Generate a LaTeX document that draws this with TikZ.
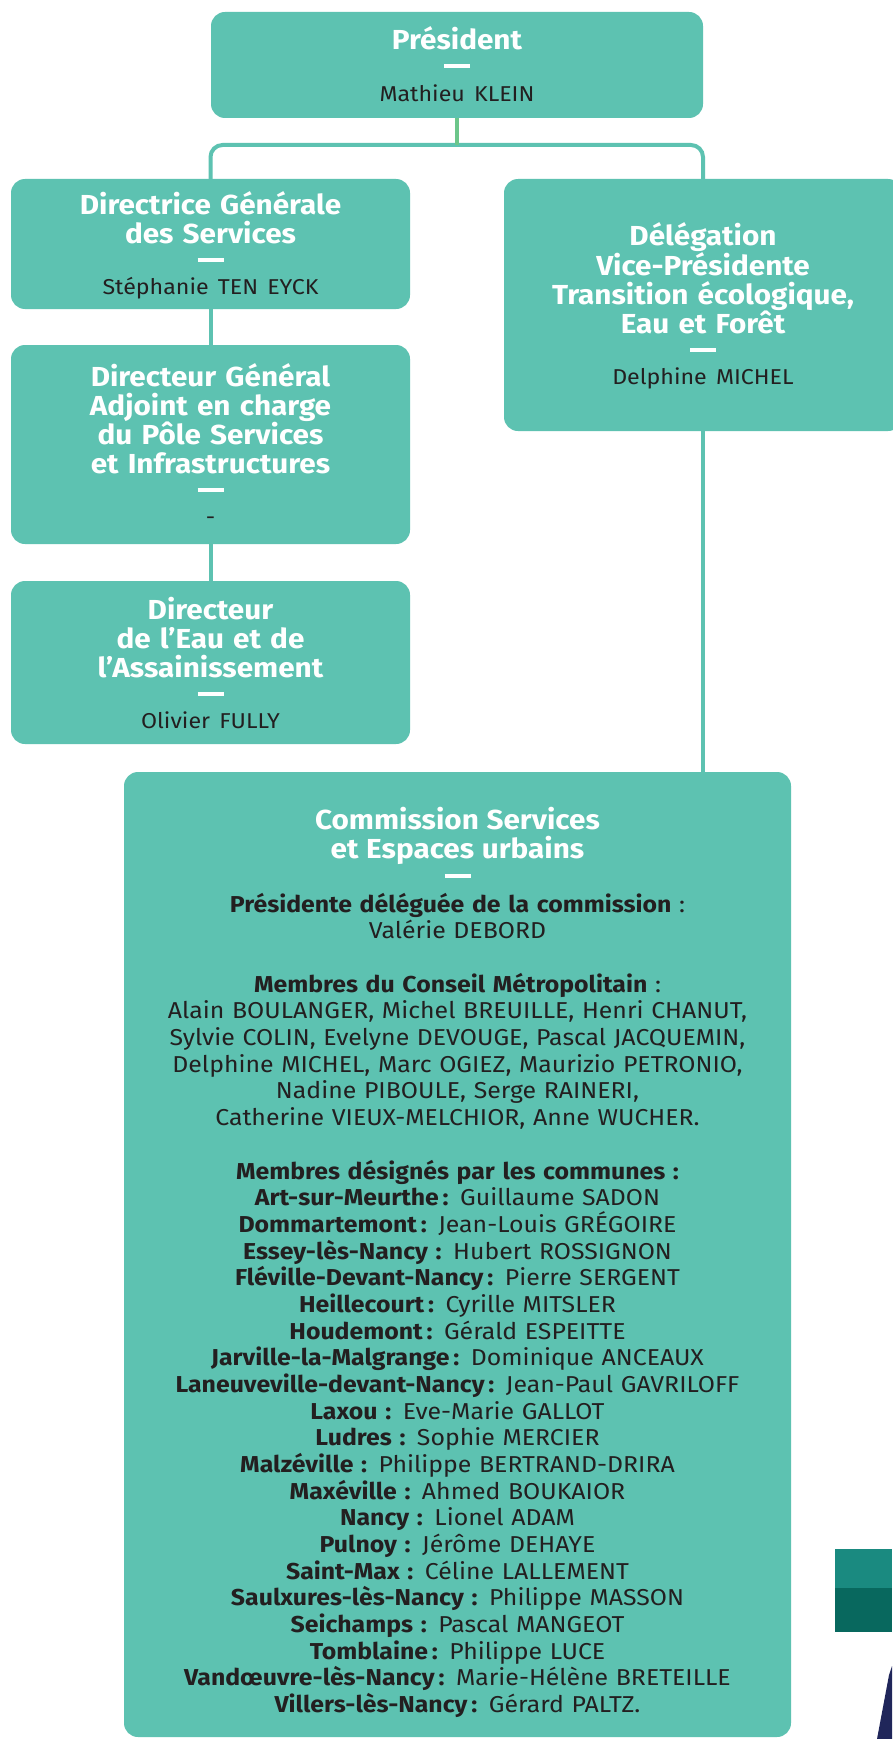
\documentclass[tikz,border=0pt]{standalone}
\usepackage{fontspec}
\setmainfont[FakeStretch=1.08]{Fira Sans}
\AtBeginDocument{\lineskiplimit=-100pt\relax}
\definecolor{boxc}{HTML}{5DC2B1}
\definecolor{linkg}{HTML}{6CC68A}
\definecolor{ink}{HTML}{231F20}
\definecolor{tealA}{HTML}{1A8A80}
\definecolor{tealB}{HTML}{08685E}
\definecolor{navy}{HTML}{20265A}
\newcommand\sepbar{\rule[10.5pt]{26pt}{4pt}}
\newcommand\nm[1]{{\color{ink}\mdseries\fontsize{21.5}{29}\selectfont #1}}
\begin{document}
\begin{tikzpicture}[x=1pt,y=-1pt,
  box/.style={fill=boxc, rounded corners=14pt, inner sep=0pt},
  ttl/.style={text=white, inner sep=0pt, align=center, text width=380pt, anchor=base,
    font=\bfseries\fontsize{27.5}{29}\selectfont},
  conn/.style={draw=boxc, line width=4pt},
  conng/.style={draw=linkg, line width=3.5pt}]
\useasboundingbox (0,0) rectangle (892,1739);
\fill[white] (0,0) rectangle (892,1739);

% decorations bottom right
\fill[tealA] (835,1549) rectangle (892,1588);
\fill[tealB] (835,1588) rectangle (892,1632);
\fill[navy] (877,1739) -- (889,1675) -- (892,1666) -- (892,1739) -- cycle;

% boxes
\node[box, minimum width=492pt, minimum height=106pt] (pres) at (457,65) {};
\node[box, minimum width=399pt, minimum height=130pt] (dgs) at (210.5,244) {};
\node[box, minimum width=398pt, minimum height=252pt] (deleg) at (703,305) {};
\node[box, minimum width=399pt, minimum height=199pt] (dga) at (210.5,444.5) {};
\node[box, minimum width=399pt, minimum height=163pt] (dir) at (210.5,662.5) {};
\node[box, minimum width=667pt, minimum height=965pt] (comm) at (457.5,1254.5) {};

% texts
\node[ttl] (presT) at (457,50)
  {Président\\\sepbar\\[-6.5pt]\nm{Mathieu KLEIN}};
\node[ttl] (dgsT) at (210.5,214.3)
  {Directrice Générale\\des Services\\\sepbar\\[-6.5pt]\nm{Stéphanie TEN EYCK}};
\node[ttl] (delegT) at (703,245.3)
  {Délégation\\Vice-Présidente\\Transition écologique,\\Eau et Forêt\\\sepbar\\[-6.5pt]\nm{Delphine MICHEL}};
\node[ttl] (dgaT) at (210.5,386.3)
  {Directeur Général\\Adjoint en charge\\du Pôle Services\\et Infrastructures\\\sepbar\\[-6.5pt]\nm{-}};
\node[ttl] (dirT) at (210.5,619.3)
  {Directeur\\de l’Eau et de\\l’Assainissement\\\sepbar\\[-6.5pt]\nm{Olivier FULLY}};

\node[text=ink, align=center, inner sep=0pt, text width=660pt, anchor=base,
  font=\fontsize{23}{26.67}\selectfont] (commT) at (457.5,829.3)
  {{\color{white}\bfseries\fontsize{27.5}{26.67}\selectfont Commission Services\\[2.33pt]et Espaces urbains\\[2.33pt]\rule[9pt]{26pt}{4pt}}\\[-1.67pt]
  \textbf{Présidente déléguée de la commission} :\\
  Valérie DEBORD\\[26.67pt]
  \textbf{Membres du Conseil Métropolitain} :\\
  Alain BOULANGER, Michel BREUILLE, Henri CHANUT,\\
  Sylvie COLIN, Evelyne DEVOUGE, Pascal JACQUEMIN,\\
  Delphine MICHEL, Marc OGIEZ, Maurizio PETRONIO,\\
  Nadine PIBOULE, Serge RAINERI,\\
  Catherine VIEUX-MELCHIOR, Anne WUCHER.\\[26.67pt]
  \textbf{Membres désignés par les communes :}\\
  \textbf{Art-sur-Meurthe\,:} Guillaume SADON\\
  \textbf{Dommartemont\,:} Jean-Louis GRÉGOIRE\\
  \textbf{Essey-lès-Nancy :} Hubert ROSSIGNON\\
  \textbf{Fléville-Devant-Nancy\,:} Pierre SERGENT\\
  \textbf{Heillecourt\,:} Cyrille MITSLER\\
  \textbf{Houdemont\,:} Gérald ESPEITTE\\
  \textbf{Jarville-la-Malgrange\,:} Dominique ANCEAUX\\
  \textbf{Laneuveville-devant-Nancy\,:} Jean-Paul GAVRILOFF\\
  \textbf{Laxou :} Eve-Marie GALLOT\\
  \textbf{Ludres :} Sophie MERCIER\\
  \textbf{Malzéville :} Philippe BERTRAND-DRIRA\\
  \textbf{Maxéville :} Ahmed BOUKAIOR\\
  \textbf{Nancy :} Lionel ADAM\\
  \textbf{Pulnoy :} Jérôme DEHAYE\\
  \textbf{Saint-Max :} Céline LALLEMENT\\
  \textbf{Saulxures-lès-Nancy :} Philippe MASSON\\
  \textbf{Seichamps :} Pascal MANGEOT\\
  \textbf{Tomblaine\,:} Philippe LUCE\\
  \textbf{Vandœuvre-lès-Nancy\,:} Marie-Hélène BRETEILLE\\
  \textbf{Villers-lès-Nancy\,:} Gérard PALTZ.};

% connectors
\coordinate (hub) at (457,145);
\draw[conn, rounded corners=12pt] (dgs.north) |- (hub) -| (deleg.north);
\draw[conng] (pres.south) -- (hub);
\draw[conn] (dgs.south) -- (dga.north);
\draw[conn] (dga.south) -- (dir.north);
\draw[conn] (deleg.south) -- (deleg.south |- comm.north);
\end{tikzpicture}
\end{document}
